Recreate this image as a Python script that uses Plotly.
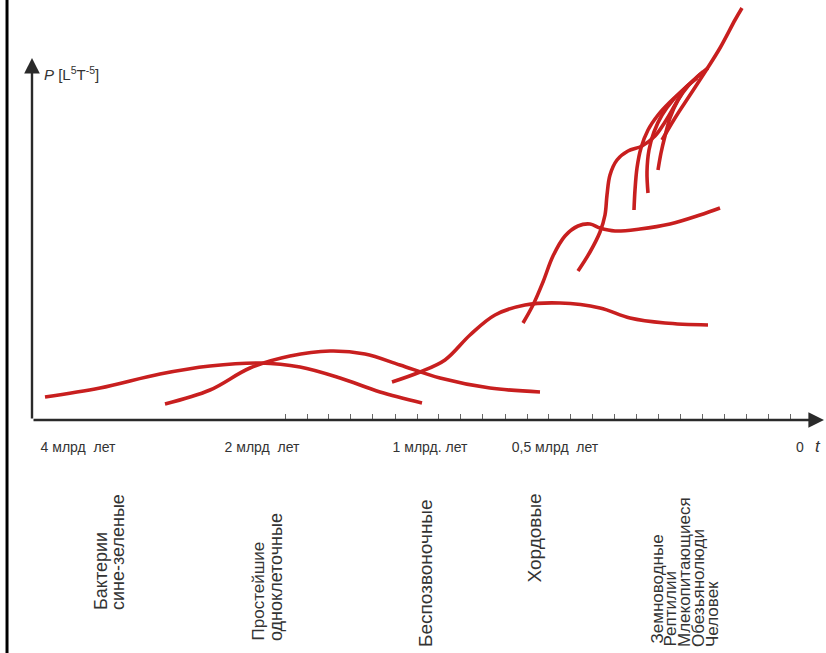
import plotly.graph_objects as go

# ---- data (schematic: x = time position, P = level above the t axis) ----
curve_names = ["Бактерии", "Простейшие", "Беспозвоночные", "Хордовые",
               "Земноводные", "Рептилии", "Млекопитающиеся", "Обезьянолюди", "Человек"]
curve_x = [
    [45, 100, 160, 210, 260, 300, 340, 380, 422],
    [165, 210, 250, 290, 330, 365, 400, 440, 490, 540],
    [392, 420, 445, 470, 495, 525, 560, 600, 630, 665, 708],
    [523, 533, 543, 553, 565, 578, 590, 600, 615, 640, 670, 700, 720],
    [578, 590, 600, 605, 607, 610, 617, 628, 642, 655, 665, 675, 685],
    [634, 635, 637, 641, 648, 658, 670, 683, 696, 708],
    [648, 647, 649, 654, 662, 673, 685, 697],
    [658, 661, 665, 670, 678, 688, 697, 703],
    [662, 675, 690, 705, 720, 735, 742],
]
curve_p = [
    [23, 32, 46, 54, 57, 53, 42, 28, 17],
    [16, 30, 52, 64, 69, 66, 55, 42, 32, 28],
    [38, 48, 60, 85, 105, 115, 117, 112, 102, 97, 95],
    [97, 115, 138, 164, 184, 194, 196, 192, 189, 191, 196, 205, 212],
    [149, 168, 188, 205, 225, 245, 260, 269, 274, 284, 298, 315, 332],
    [210, 230, 252, 272, 290, 305, 318, 330, 342, 352],
    [227, 248, 270, 288, 305, 320, 332, 342],
    [250, 267, 284, 302, 320, 334, 343, 348],
    [280, 302, 325, 348, 372, 400, 412],
]

time_tick_pos = [78, 262, 430, 555, 800]
time_tick_text = ["4 млрд  лет", "2 млрд  лет", "1 млрд. лет", "0,5 млрд  лет", "0"]
minor_tick_pos = [285, 307, 328, 350, 372, 395, 417, 438, 460, 482, 505, 527, 548,
                  570, 592, 614, 636, 658, 680, 702, 724, 746, 768, 790]

group_labels = ["Бактерии", "сине-зеленые", "Простейшие", "одноклеточные",
                "Беспозвоночные", "Хордовые", "Земноводные", "Рептилии",
                "Млекопитающиеся", "Обезьянолюди", "Человек"]

# ---- layout helpers (positions / styles) ----
label_x = [101, 118, 258, 276, 425, 534, 657, 670, 684, 698, 712]
label_bottom = [-192, -192, -223, -223, -229, -165, -226, -229, -229, -229, -229]
label_size = [18, 18, 17, 18, 19, 19, 17, 17, 17, 17, 17]

RED = "#c81f1f"
TXT = "#333333"
FONT = "Liberation Sans Narrow, Liberation Sans, Arial, sans-serif"

fig = go.Figure()
for name, xs, ps in zip(curve_names, curve_x, curve_p):
    fig.add_trace(go.Scatter(x=xs, y=ps, mode="lines", name=name,
                             line=dict(color=RED, width=3.6, shape="spline", smoothing=1.0),
                             hoverinfo="skip", showlegend=False))

annotations = [
    # t axis with arrow
    dict(x=824, y=0, ax=32, ay=0, xref="x", yref="y", axref="x", ayref="y",
         showarrow=True, arrowhead=2, arrowsize=1.3, arrowwidth=2.4,
         arrowcolor="#2a2a2a", text=""),
    # P axis with arrow
    dict(x=32, y=362, ax=32, ay=0, xref="x", yref="y", axref="x", ayref="y",
         showarrow=True, arrowhead=2, arrowsize=1.3, arrowwidth=2.4,
         arrowcolor="#2a2a2a", text=""),
    dict(x=42, y=347, xref="x", yref="y", xanchor="left", yanchor="middle",
         showarrow=False, text="<i>P</i> [L<sup>5</sup>T<sup>-5</sup>]",
         font=dict(family="Liberation Sans, Arial", size=15, color=TXT)),
    dict(x=818, y=-26, xref="x", yref="y", xanchor="center", yanchor="middle",
         showarrow=False, text="<i>t</i>",
         font=dict(family="Liberation Sans, Arial", size=17, color=TXT)),
]
for txt, lx, lb, ls in zip(group_labels, label_x, label_bottom, label_size):
    annotations.append(dict(x=lx, y=lb, xref="x", yref="y", textangle=-90,
                            xanchor="center", yanchor="bottom", showarrow=False,
                            text=txt, font=dict(family="Liberation Sans, Arial",
                                                size=ls, color=TXT)))

fig.update_layout(
    width=826, height=653,
    margin=dict(l=0, r=0, t=0, b=0),
    paper_bgcolor="white", plot_bgcolor="white",
    xaxis=dict(range=[0, 826], anchor="free", position=(653 - 420) / 653,
               showline=False, showgrid=False, zeroline=False, fixedrange=True,
               tickmode="array", tickvals=time_tick_pos, ticktext=time_tick_text,
               ticks="", ticklabelstandoff=17,
               tickfont=dict(family=FONT, size=14, color=TXT),
               minor=dict(tickmode="array", tickvals=minor_tick_pos, ticks="inside",
                          ticklen=6, tickwidth=1, tickcolor="#666666", showgrid=False)),
    yaxis=dict(range=[-233, 420], visible=False, fixedrange=True),
    annotations=annotations,
    shapes=[dict(type="line", xref="paper", yref="paper", x0=0.0085, x1=0.0085,
                 y0=0, y1=1, line=dict(color="black", width=3))],
)

fig.write_html("out.html", config={"displayModeBar": False},
               post_script="document.body.style.margin='0';document.body.style.overflow='hidden';")
